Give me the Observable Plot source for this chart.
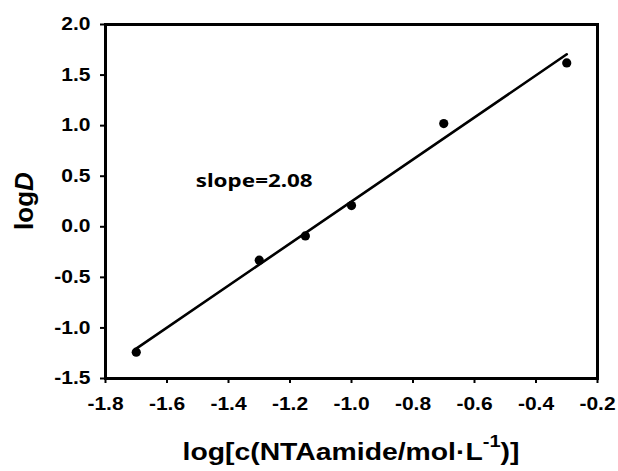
<!DOCTYPE html>
<html>
<head>
<meta charset="utf-8">
<script src="https://cdn.jsdelivr.net/npm/d3@7"></script>
<script src="https://cdn.jsdelivr.net/npm/@observablehq/plot@0.6"></script>
<style>
  html, body { margin: 0; padding: 0; background: #fff; }
  svg { font-family: "Liberation Sans", Arial, sans-serif; }
  svg text { font-weight: bold; }
</style>
</head>
<body>
<script>
// Data
const logC = [-1.7, -1.3, -1.15, -1.0, -0.7, -0.3];
const logD = [-1.24, -0.33, -0.09, 0.21, 1.02, 1.62];
const xTicks = [-1.8, -1.6, -1.4, -1.2, -1.0, -0.8, -0.6, -0.4, -0.2];
const yTicks = [-1.5, -1.0, -0.5, 0.0, 0.5, 1.0, 1.5, 2.0];
const slopeText = "slope=2.08";
const slopeAnchor = [-1.505, 0.39]; // data-space anchor of the annotation

const data = logC.map((x, i) => ({x, y: logD[i]}));
const fmt = d => d.toFixed(1);

const chart = Plot.plot({
  width: 618,
  height: 471,
  marginLeft: 105,
  marginRight: 21,
  marginTop: 24,
  marginBottom: 93,
  x: {domain: [-1.8, -0.2]},
  y: {domain: [-1.5, 2.0]},
  marks: [
    Plot.axisX({ticks: xTicks, tickFormat: fmt, tickSize: 5, tickPadding: 14, fontSize: 17.5, fontWeight: "bold", strokeWidth: 2, label: null, fill: "#000"}),
    Plot.axisY({ticks: yTicks, tickFormat: fmt, tickSize: 5, tickPadding: 10, fontSize: 17.5, fontWeight: "bold", strokeWidth: 2, label: null, fill: "#000"}),
    Plot.linearRegressionY(data, {x: "x", y: "y", ci: 0, stroke: "#000", strokeWidth: 2.6}),
    Plot.dot(data, {x: "x", y: "y", r: 4.6, fill: "#000", stroke: "none"}),
    Plot.frame({stroke: "#000", strokeWidth: 3})
  ]
});

document.body.append(chart);

const svg = d3.select(chart);

// bold, horizontally widened tick labels like the reference
svg.selectAll('g[aria-label="x-axis tick label"], g[aria-label="y-axis tick label"]').attr("font-weight", "bold");
svg.selectAll('g[aria-label="x-axis tick label"] text, g[aria-label="y-axis tick label"] text').each(function() {
  this.setAttribute("font-weight", "bold");
  const len = this.getComputedTextLength();
  this.setAttribute("textLength", (len * 1.2).toFixed(1));
  this.setAttribute("lengthAdjust", "spacingAndGlyphs");
});

const sx = chart.scale("x"), sy = chart.scale("y");

// slope annotation
svg.append("text")
  .attr("x", sx.apply(slopeAnchor[0]))
  .attr("y", sy.apply(slopeAnchor[1]))
  .attr("text-anchor", "start")
  .attr("font-family", "'Noto Sans', sans-serif")
  .attr("font-weight", "bold")
  .attr("font-size", 18.5)
  .attr("textLength", 117)
  .attr("lengthAdjust", "spacingAndGlyphs")
  .attr("fill", "#000")
  .text(slopeText);

// x-axis title
const xt = svg.append("text")
  .attr("x", (105 + 597) / 2)
  .attr("y", 460)
  .attr("text-anchor", "middle")
  .attr("font-weight", "bold")
  .attr("font-size", 24)
  .attr("fill", "#000");
xt.append("tspan").text("log[c(NTAamide/mol·L");
xt.append("tspan").attr("font-size", 17).attr("dy", -13).text("-1");
xt.append("tspan").attr("dy", 13).text(")]");
xt.attr("textLength", 337).attr("lengthAdjust", "spacingAndGlyphs");

// y-axis title
const yt = svg.append("text")
  .attr("transform", "translate(33,201) rotate(-90)")
  .attr("text-anchor", "middle")
  .attr("font-weight", "bold")
  .attr("font-size", 26)
  .attr("fill", "#000");
yt.append("tspan").text("log");
yt.append("tspan").attr("font-style", "italic").text("D");
</script>
</body>
</html>
